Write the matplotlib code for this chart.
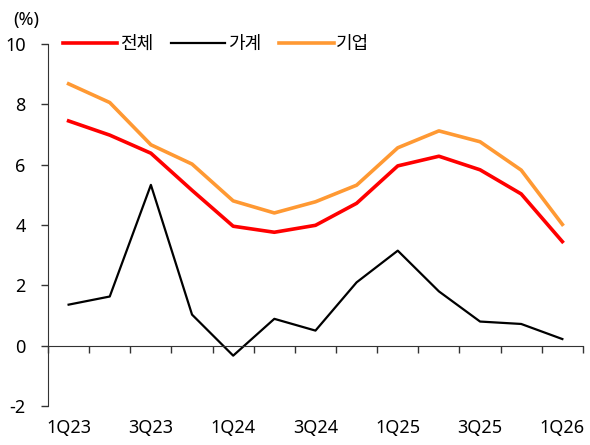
import matplotlib
matplotlib.use("Agg")
import matplotlib.pyplot as plt
from matplotlib.ticker import FuncFormatter
import numpy as np

plt.rcParams['font.family'] = ['Noto Sans', 'Noto Sans CJK KR', 'DejaVu Sans']

quarters = ["1Q23", "2Q23", "3Q23", "4Q23", "1Q24", "2Q24", "3Q24", "4Q24",
            "1Q25", "2Q25", "3Q25", "4Q25", "1Q26"]
total = [7.45, 6.98, 6.38, 5.15, 3.96, 3.76, 3.99, 4.72, 5.96, 6.28, 5.83, 5.03, 3.45]
household = [1.36, 1.63, 5.33, 1.03, -0.33, 0.89, 0.50, 2.10, 3.15, 1.80, 0.80, 0.72, 0.22]
corporate = [8.68, 8.06, 6.66, 6.02, 4.80, 4.40, 4.77, 5.32, 6.56, 7.12, 6.76, 5.82, 4.02]
series_names = ["전체", "가계", "기업"]

fig = plt.figure(figsize=(5.9, 4.45), dpi=100)
ax = fig.add_axes([0.0814, 0.0876, 0.9066, 0.8135])

x = np.arange(len(quarters))
ax.plot(x, total, color="#FF0000", lw=2.6, label=series_names[0])
ax.plot(x, household, color="#000000", lw=1.6, label=series_names[1])
ax.plot(x, corporate, color="#FF9933", lw=2.6, label=series_names[2])

ax.set_ylim(-2, 10)
ax.set_xlim(-0.5, len(quarters) - 0.5)
ax.set_yticks(np.arange(-2, 11, 2))
ax.yaxis.set_major_formatter(FuncFormatter(lambda v, p: f"{int(v)}"))
ax.tick_params(axis='y', direction='out', length=5, width=1, labelsize=13, pad=11, color='#333333')

ax.spines['top'].set_visible(False)
ax.spines['right'].set_visible(False)
ax.spines['left'].set_color('#333333')
ax.spines['bottom'].set_color('#333333')
ax.spines['bottom'].set_position(('data', 0))

ax.set_xticks(x[::2])
ax.set_xticklabels(quarters[::2])
ax.set_xticks(np.arange(-0.5, len(quarters), 1.0), minor=True)
ax.tick_params(axis='x', which='major', length=0, labelsize=13, pad=53)
ax.tick_params(axis='x', which='minor', direction='out', length=5, width=1, color='#333333')

fig.text(13 / 590, 1 - 20 / 445, "(%)", fontsize=13, ha='left', va='center')

ax.legend(loc='center left', bbox_to_anchor=(15 / 535, 1.0), ncol=3, frameon=False,
          fontsize=13, handlelength=3.0, handletextpad=0.15, columnspacing=1.0,
          borderaxespad=0, borderpad=0)

fig.savefig("out.png", dpi=100)
